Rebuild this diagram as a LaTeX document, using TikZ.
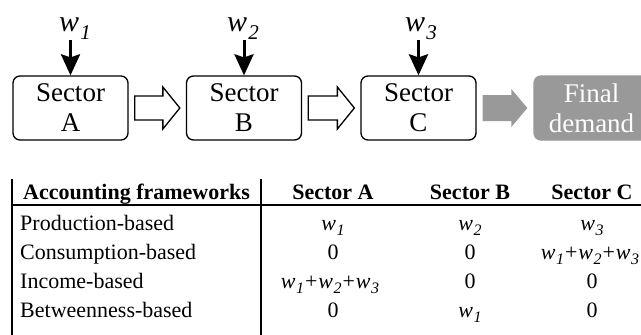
\documentclass[tikz,border=0pt]{standalone}
\usepackage{fontspec}
\setmainfont{Liberation Serif}
\usetikzlibrary{arrows.meta,calc}

\definecolor{demandgray}{RGB}{153,153,153}

% italic w with a lowered index, large (inputs) and table size
\newcommand{\labw}[1]{{\fontsize{30}{30}\selectfont\itshape w\kern1pt\raisebox{-8pt}{\fontsize{21}{21}\selectfont #1}}}
\newcommand{\tabw}[1]{{\itshape w\kern0.5pt\raisebox{-5pt}{\fontsize{16}{16}\selectfont #1}}}
\newcommand{\tabsum}{\tabw{1}\kern1pt+\kern1pt\tabw{2}\kern1pt+\kern1pt\tabw{3}}

% block arrow between two nodes: #1 style, #2 source, #3 target,
% #4 half shaft, #5 half head, #6 head length, #7 gap at each end
\newcommand{\blockarrow}[7]{%
  \path let \p1=(#2.east), \p2=(#3.west) in
    [#1] (\x1+#7,\y1+#4) -- (\x2-#7-#6,\y1+#4) -- (\x2-#7-#6,\y1+#5)
      -- (\x2-#7,\y1) -- (\x2-#7-#6,\y1-#5) -- (\x2-#7-#6,\y1-#4)
      -- (\x1+#7,\y1-#4) -- cycle;}

\begin{document}
\begin{tikzpicture}[x=1pt,y=-1pt,
  sectbox/.style={draw, line width=1.3pt, rounded corners=7pt,
    minimum width=115pt, minimum height=64pt, inner sep=0pt,
    align=center, font=\fontsize{27}{30}\selectfont},
  demandbox/.style={sectbox, draw=demandgray, fill=demandgray, text=white},
  wlab/.style={inner sep=0pt, anchor=south},
  warrow/.style={line width=3pt, -{Stealth[length=21pt,width=19pt,inset=3pt]}},
  hollow/.style={draw, line width=1.3pt, fill=white, line join=miter},
  solidarrow/.style={fill=demandgray},
  tabtext/.style={inner sep=0pt, font=\fontsize{22}{22}\selectfont},
  tabhead/.style={tabtext, font=\fontsize{22}{22}\selectfont\bfseries},
  rule/.style={line width=2.2pt}
]
\clip (0,0) rectangle (641,335);
\fill[white] (0,0) rectangle (641,335);

% supply chain
\node[sectbox] (A) at (70.5,108) {Sector\\A};
\node[sectbox] (B) at (244,108) {Sector\\B};
\node[sectbox] (C) at (418.5,108) {Sector\\C};
\node[demandbox] (D) at (591.5,108) {Final\\demand};

\node[wlab] (w1) at (75,40) {\labw{1}};
\node[wlab] (w2) at (243,40) {\labw{2}};
\node[wlab] (w3) at (421,40) {\labw{3}};

\draw[warrow] (w1.south -| A.north) -- (A.north);
\draw[warrow] (w2.south -| B.north) -- (B.north);
\draw[warrow] (w3.south -| C.north) -- (C.north);

\blockarrow{hollow}{A}{B}{12pt}{21pt}{17pt}{6pt}
\blockarrow{hollow}{B}{C}{12pt}{21pt}{17pt}{6pt}
\blockarrow{solidarrow}{C}{D}{13pt}{19pt}{16pt}{6pt}

% accounting table
\draw[rule] (12,179) -- (12,340);
\draw[line width=1.8pt] (261,179) -- (261,340);
\draw[rule] (11,205) -- (645,205);

\node[tabhead, anchor=base west] (hf) at (23,199) {Accounting frameworks};
\node[tabhead, anchor=base] (ha) at (333,199) {Sector A};
\node[tabhead, anchor=base] (hb) at (470,199) {Sector B};
\node[tabhead, anchor=base] (hc) at (592,199) {Sector C};

\node[tabtext, anchor=base west] (r1) at (20,230) {Production-based};
\node[tabtext, anchor=base] (r1a) at (333,230) {\tabw{1}};
\node[tabtext, anchor=base] (r1b) at (470,230) {\tabw{2}};
\node[tabtext, anchor=base] (r1c) at (592,230) {\tabw{3}};

\node[tabtext, anchor=base west] (r2) at (20,259) {Consumption-based};
\node[tabtext, anchor=base] (r2a) at (333,259) {0};
\node[tabtext, anchor=base] (r2b) at (470,259) {0};
\node[tabtext, anchor=base] (r2c) at (590,259) {\tabsum};

\node[tabtext, anchor=base west] (r3) at (20,288) {Income-based};
\node[tabtext, anchor=base] (r3a) at (330,288) {\tabsum};
\node[tabtext, anchor=base] (r3b) at (470,288) {0};
\node[tabtext, anchor=base] (r3c) at (592,288) {0};

\node[tabtext, anchor=base west] (r4) at (20,317) {Betweenness-based};
\node[tabtext, anchor=base] (r4a) at (333,317) {0};
\node[tabtext, anchor=base] (r4b) at (470,317) {\tabw{1}};
\node[tabtext, anchor=base] (r4c) at (592,317) {0};
\end{tikzpicture}
\end{document}
